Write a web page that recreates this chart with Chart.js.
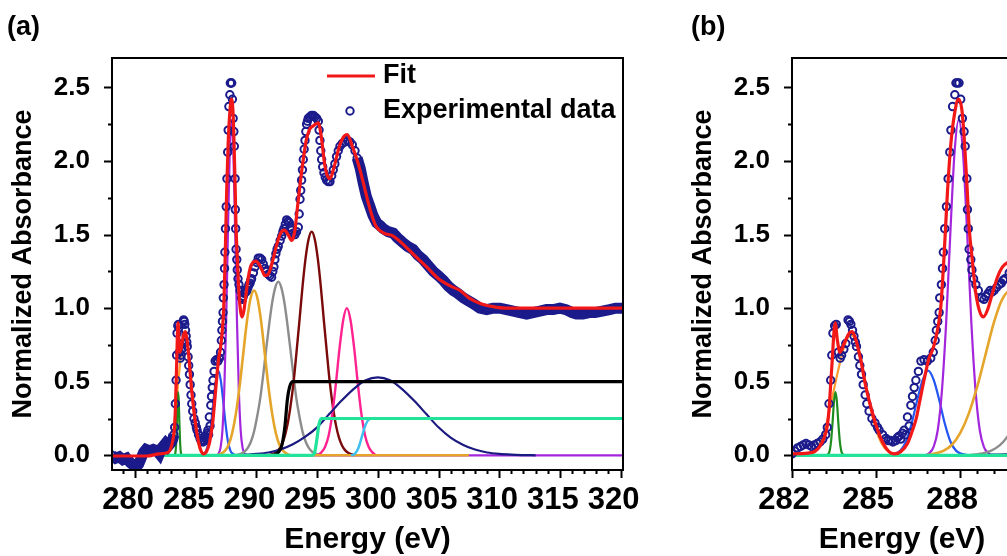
<!DOCTYPE html>
<html lang="en">
<head>
<meta charset="UTF-8">
<title>NEXAFS peak fit</title>
<script src="https://cdn.jsdelivr.net/npm/chart.js"></script>
<style>
    html, body { margin: 0; padding: 0; background: #fff; overflow: hidden; }
    body { width: 1007px; height: 556px; position: relative; }
    .panel { position: absolute; top: 0; height: 556px; }
    #panelA { left: 0; width: 660px; }
    #panelB { left: 680px; width: 352px; }
</style>
</head>
<body>
<div class="panel" id="panelA"><canvas id="chartA"></canvas></div>
<div class="panel" id="panelB"><canvas id="chartB"></canvas></div>

<script>
// ---- data: [energy (eV), normalized absorbance] ----
const expData = [
    [278.1, 0.00], [278.4, -0.02], [278.7, -0.01], [279.0, -0.03], [279.3, -0.02], [279.6, -0.05], [279.9, -0.07],
    [280.1, -0.08], [280.3, -0.06], [280.5, -0.02], [280.7, 0.02], [280.9, 0.04], [281.2, 0.03], [281.5, 0.04], [281.8, 0.03],
    [282.0, 0.01], [282.1, 0.03], [282.2, 0.05], [282.3, 0.06], [282.4, 0.07], [282.5, 0.08], [282.6, 0.07], [282.7, 0.06],
    [282.8, 0.07], [282.9, 0.08], [283.0, 0.09], [283.1, 0.11], [283.2, 0.14],
    [283.26, 0.19], [283.32, 0.35], [283.38, 0.51], [283.42, 0.68], [283.46, 0.83], [283.52, 0.88], [283.58, 0.89],
    [283.65, 0.70], [283.72, 0.66], [283.77, 0.68], [283.85, 0.72], [283.92, 0.76], [284.0, 0.92], [284.05, 0.91],
    [284.1, 0.89], [284.16, 0.85], [284.21, 0.81], [284.26, 0.77], [284.30, 0.74], [284.37, 0.67], [284.42, 0.61],
    [284.48, 0.55], [284.54, 0.48], [284.61, 0.41], [284.67, 0.35], [284.75, 0.30], [284.85, 0.25], [284.96, 0.22],
    [285.05, 0.19], [285.11, 0.17], [285.23, 0.14], [285.35, 0.115], [285.44, 0.10], [285.52, 0.10], [285.6, 0.09],
    [285.7, 0.10], [285.76, 0.12], [285.82, 0.13], [285.88, 0.11], [285.94, 0.15], [286.0, 0.17], [286.06, 0.14],
    [286.12, 0.26], [286.18, 0.20], [286.24, 0.34], [286.3, 0.40], [286.36, 0.46], [286.42, 0.51], [286.51, 0.57],
    [286.6, 0.64], [286.71, 0.65], [286.83, 0.64], [286.95, 0.66], [287.04, 0.70], [287.11, 0.78], [287.15, 0.85],
    [287.2, 0.91], [287.25, 0.97], [287.27, 1.07], [287.33, 1.16], [287.37, 1.27], [287.4, 1.38], [287.45, 1.54],
    [287.51, 1.69], [287.57, 1.88], [287.63, 2.06], [287.67, 2.21], [287.73, 2.37], [287.81, 2.45], [287.85, 2.53],
    [287.9, 2.53], [287.96, 2.53], [288.02, 2.42], [288.08, 2.29], [288.14, 2.20], [288.18, 2.10], [288.24, 1.88],
    [288.26, 1.67], [288.29, 1.54], [288.32, 1.40], [288.38, 1.33], [288.42, 1.26], [288.48, 1.20], [288.56, 1.16],
    [288.65, 1.12], [288.77, 1.07], [288.85, 1.06], [288.92, 1.08], [289.0, 1.10], [289.07, 1.12], [289.14, 1.11],
    [289.21, 1.12], [289.3, 1.14], [289.39, 1.16], [289.47, 1.17], [289.54, 1.19], [289.6, 1.20],
    [289.75, 1.24], [289.88, 1.28], [290.02, 1.31], [290.15, 1.34], [290.3, 1.34], [290.43, 1.33], [290.56, 1.30],
    [290.7, 1.27], [290.84, 1.25], [290.98, 1.23], [291.1, 1.22], [291.25, 1.21], [291.35, 1.25], [291.44, 1.28],
    [291.52, 1.33], [291.6, 1.37], [291.7, 1.40], [291.8, 1.42], [291.95, 1.46], [292.08, 1.49], [292.18, 1.52],
    [292.27, 1.54], [292.38, 1.57], [292.49, 1.60], [292.6, 1.59], [292.71, 1.58], [292.8, 1.55], [292.9, 1.53],
    [293.03, 1.51], [293.17, 1.50], [293.3, 1.52], [293.45, 1.55], [293.52, 1.64], [293.59, 1.74], [293.65, 1.80],
    [293.72, 1.87], [293.79, 1.94], [293.86, 2.01], [293.93, 2.08], [294.0, 2.14], [294.07, 2.20], [294.13, 2.25],
    [294.2, 2.27], [294.27, 2.29], [294.4, 2.30], [294.54, 2.31], [294.68, 2.31], [294.82, 2.30], [294.96, 2.29],
    [295.1, 2.27], [295.16, 2.21], [295.23, 2.14], [295.3, 2.07], [295.37, 2.01], [295.46, 1.96], [295.56, 1.92],
    [295.67, 1.89], [295.78, 1.87], [295.92, 1.86], [296.06, 1.86], [296.2, 1.90], [296.33, 1.94], [296.46, 1.98],
    [296.6, 2.03], [296.74, 2.07], [296.88, 2.10], [297.08, 2.12], [297.29, 2.13], [297.5, 2.14], [297.7, 2.13],
    [297.9, 2.11], [298.12, 2.07], [298.3, 2.02],
    [298.55, 1.95], [298.8, 1.85], [299.05, 1.76], [299.35, 1.69], [299.6, 1.63], [299.9, 1.58], [300.2, 1.56],
    [300.45, 1.54], [300.85, 1.52], [301.27, 1.51], [301.6, 1.48], [302.0, 1.45], [302.45, 1.42], [302.9, 1.40],
    [303.3, 1.36], [303.74, 1.33], [304.15, 1.29], [304.57, 1.25], [305.0, 1.22], [305.39, 1.19], [305.8, 1.15],
    [306.22, 1.12], [306.6, 1.10], [307.04, 1.07], [307.45, 1.05], [307.87, 1.03], [308.4, 1.00], [308.97, 0.99],
    [309.5, 1.00], [310.06, 1.00], [310.6, 0.99], [311.16, 0.98], [311.7, 0.97], [312.26, 0.96], [312.8, 0.97],
    [313.35, 0.98], [313.9, 0.99], [314.45, 0.99], [315.0, 1.00], [315.5, 0.99], [316.0, 0.97], [316.37, 0.96],
    [316.9, 0.96], [317.4, 0.97], [317.9, 0.97], [318.5, 0.98], [319.1, 0.99], [319.6, 1.00], [320.2, 1.00]
];

const fitData = [
    [278.1, -0.005], [281.0, -0.005], [282.0, 0.01], [282.73, 0.02], [283.08, 0.09], [283.26, 0.20], [283.32, 0.31],
    [283.42, 0.60], [283.54, 0.90], [283.62, 0.78], [283.71, 0.70], [283.86, 0.76], [284.04, 0.83], [284.15, 0.84],
    [284.27, 0.79], [284.45, 0.65], [284.63, 0.47], [284.81, 0.33], [284.99, 0.21], [285.23, 0.09], [285.46, 0.025],
    [285.64, 0.01], [285.88, 0.025], [286.12, 0.08], [286.3, 0.17], [286.42, 0.24], [286.54, 0.35], [286.71, 0.51],
    [286.89, 0.66], [287.04, 0.73], [287.19, 0.85], [287.31, 1.01], [287.43, 1.37], [287.55, 1.80], [287.67, 2.12],
    [287.79, 2.31], [287.94, 2.42], [288.06, 2.35], [288.14, 2.17], [288.24, 1.85], [288.32, 1.55], [288.42, 1.35],
    [288.56, 1.10], [288.71, 0.97], [288.83, 0.94], [288.98, 0.99], [289.15, 1.10], [289.33, 1.21], [289.51, 1.28],
    [289.7, 1.31], [289.95, 1.32], [290.2, 1.30], [290.45, 1.26], [290.7, 1.22], [290.97, 1.23], [291.3, 1.31],
    [291.7, 1.44], [292.0, 1.51], [292.3, 1.53], [292.6, 1.50], [292.9, 1.46], [293.15, 1.52], [293.4, 1.70],
    [293.65, 1.88], [293.86, 2.01], [294.1, 2.14], [294.35, 2.21], [294.7, 2.24], [295.09, 2.26], [295.35, 2.16],
    [295.6, 1.99], [295.8, 1.91], [296.06, 1.88], [296.4, 1.96], [296.8, 2.09], [297.15, 2.16], [297.48, 2.18],
    [297.9, 2.10], [298.2, 2.03], [298.53, 1.94], [298.9, 1.82], [299.2, 1.72], [299.55, 1.62], [299.9, 1.55],
    [300.5, 1.51], [301.27, 1.49], [302.0, 1.44], [303.0, 1.36], [304.02, 1.28], [305.0, 1.20], [306.0, 1.15],
    [306.77, 1.12], [307.5, 1.07], [308.5, 1.03], [309.5, 1.01], [310.5, 1.00], [312.0, 1.00], [316.0, 1.00], [320.2, 1.00]
];

// fitted components
const greenPk = [[283.2, 0], [283.3, 0.009], [283.35, 0.036], [283.4, 0.107], [283.45, 0.23], [283.5, 0.37], [283.55, 0.43],
    [283.6, 0.37], [283.65, 0.23], [283.7, 0.107], [283.75, 0.036], [283.8, 0.009], [283.9, 0]];
const orangePk = [[282.7, 0.01], [282.9, 0.05], [283.1, 0.13], [283.3, 0.27], [283.5, 0.45], [283.7, 0.62], [283.9, 0.76],
    [284.1, 0.82], [284.3, 0.77], [284.5, 0.62], [284.7, 0.42], [284.9, 0.24], [285.1, 0.12], [285.3, 0.05], [285.5, 0.02], [285.8, 0]];
const bluePk = [[285.66, 0.01], [285.86, 0.03], [286.06, 0.09], [286.26, 0.21], [286.46, 0.37], [286.66, 0.51], [286.86, 0.575],
    [287.06, 0.51], [287.26, 0.37], [287.46, 0.21], [287.66, 0.09], [287.86, 0.03], [288.06, 0.01], [288.3, 0]];
const purplePk = [[286.75, 0], [286.9, 0.015], [287.05, 0.055], [287.2, 0.17], [287.35, 0.44], [287.5, 0.90], [287.65, 1.51],
    [287.8, 2.06], [287.95, 2.28], [288.1, 2.06], [288.25, 1.51], [288.4, 0.90], [288.55, 0.44], [288.7, 0.17],
    [288.85, 0.055], [289.0, 0.015], [289.15, 0], [320.2, 0]];
const goldPk = [[286.8, 0], [287.1, 0.012], [287.4, 0.03], [287.7, 0.07], [288.0, 0.15], [288.3, 0.28], [288.6, 0.46],
    [288.9, 0.68], [289.2, 0.90], [289.5, 1.06], [289.8, 1.12], [290.1, 1.06], [290.4, 0.90], [290.7, 0.68], [291.0, 0.46],
    [291.3, 0.28], [291.6, 0.15], [291.9, 0.07], [292.2, 0.03], [292.5, 0.012], [292.8, 0], [307.5, 0]];
const grayPk = [[288.3, 0], [288.55, 0.006], [288.8, 0.013], [289.05, 0.027], [289.3, 0.052], [289.55, 0.094], [289.8, 0.16],
    [290.05, 0.26], [290.3, 0.38], [290.55, 0.54], [290.8, 0.72], [291.05, 0.89], [291.3, 1.04], [291.55, 1.14],
    [291.8, 1.18], [292.05, 1.14], [292.3, 1.04], [292.55, 0.89], [292.8, 0.72], [293.05, 0.54], [293.3, 0.38],
    [293.55, 0.26], [293.8, 0.16], [294.05, 0.094], [294.3, 0.052], [294.55, 0.027], [294.8, 0.013], [295.05, 0.006], [295.3, 0]];
const maroonPk = [[291.0, 0], [291.3, 0.008], [291.55, 0.017], [291.8, 0.035], [292.05, 0.067], [292.3, 0.12], [292.55, 0.205],
    [292.8, 0.33], [293.05, 0.49], [293.3, 0.70], [293.55, 0.92], [293.8, 1.15], [294.05, 1.34], [294.3, 1.47],
    [294.55, 1.52], [294.8, 1.47], [295.05, 1.34], [295.3, 1.15], [295.55, 0.92], [295.8, 0.70], [296.05, 0.49],
    [296.3, 0.33], [296.55, 0.205], [296.8, 0.12], [297.05, 0.067], [297.3, 0.035], [297.55, 0.017], [297.8, 0.008], [298.1, 0]];
const pinkPk = [[295.05, 0], [295.35, 0.02], [295.65, 0.056], [295.95, 0.135], [296.25, 0.28], [296.55, 0.49], [296.85, 0.73],
    [297.15, 0.92], [297.45, 1.0], [297.75, 0.92], [298.05, 0.73], [298.35, 0.49], [298.65, 0.28], [298.95, 0.135],
    [299.25, 0.056], [299.55, 0.02], [299.85, 0]];
const navyPk = [[289.0, 0.004], [290.0, 0.009], [291.0, 0.019], [292.0, 0.04], [293.0, 0.075], [294.0, 0.125], [295.0, 0.19],
    [296.0, 0.28], [297.0, 0.37], [298.0, 0.45], [299.0, 0.51], [300.0, 0.53], [301.0, 0.51], [302.0, 0.45], [303.0, 0.37],
    [304.0, 0.28], [305.0, 0.19], [306.0, 0.12], [307.0, 0.072], [308.0, 0.039], [309.0, 0.019], [310.0, 0.009],
    [311.0, 0.004], [312.0, 0.0015], [313.0, 0]];
const blackStep = [[291.5, 0], [291.8, 0.02], [292.1, 0.07], [292.35, 0.2], [292.55, 0.38], [292.75, 0.47], [293.0, 0.5], [320.2, 0.5]];
const skyStep = [[297.8, 0], [298.1, 0.01], [298.4, 0.05], [298.7, 0.13], [299.0, 0.21], [299.3, 0.245], [299.6, 0.25], [320.2, 0.25]];
const mintStep = [[282.0, 0], [294.6, 0], [294.8, 0.02], [295.0, 0.12], [295.15, 0.21], [295.35, 0.25], [320.2, 0.25]];

const xTicksA = [280, 285, 290, 295, 300, 305, 310, 315, 320];
const xTicksB = [282, 285, 288];
const yTicks = [0, 0.5, 1.0, 1.5, 2.0, 2.5];

const FONT = "'Liberation Sans', Arial, sans-serif";
const NAVY = '#1b1b8c';
const RED = '#f21818';

function curve(label, pts, color, width) {
    return {
        label: label,
        data: pts.map(([x, y]) => ({x: x, y: y})),
        borderColor: color,
        borderWidth: width,
        pointRadius: 0,
        pointHoverRadius: 0,
        cubicInterpolationMode: 'monotone',
        fill: false,
        clip: 0
    };
}

function expSet(bandLo, bandHi) {
    const inBand = x => x <= bandLo || x >= bandHi;
    return {
        label: 'Experimental data',
        data: expData.map(([x, y]) => ({x: x, y: y})),
        showLine: true,
        borderColor: NAVY,
        borderWidth: 11,
        segment: {
            borderColor: c => (inBand(c.p0.parsed.x) && inBand(c.p1.parsed.x)) ? NAVY : 'transparent'
        },
        pointRadius: 3.7,
        pointHoverRadius: 3.7,
        pointBorderWidth: 2,
        pointBorderColor: NAVY,
        pointBackgroundColor: 'rgba(0,0,0,0)',
        tension: 0,
        clip: 0
    };
}

// box, minor/major tick marks, panel letter and the inset legend
const framePlugin = {
    id: 'frame',
    afterDatasetsDraw(chart, args, opts) {
        const {ctx, chartArea: a, scales: {x, y}} = chart;
        ctx.save();
        ctx.strokeStyle = '#000';
        ctx.lineWidth = 2;
        ctx.strokeRect(a.left, a.top, a.right - a.left, a.bottom - a.top);

        ctx.lineWidth = 2;
        ctx.beginPath();
        for (let i = 0; ; i++) {
            const v = opts.xStart + i * opts.xMinor;
            if (v > x.max + 1e-6) break;
            const px = Math.round(x.getPixelForValue(v)) + 0.5;
            const major = opts.xMajor.some(m => Math.abs(m - v) < 1e-6);
            ctx.moveTo(px, a.bottom);
            ctx.lineTo(px, a.bottom + (major ? 8 : 4));
        }
        for (let i = 0; ; i++) {
            const v = i * 0.25;
            if (v > y.max) break;
            const py = Math.round(y.getPixelForValue(v)) + 0.5;
            const major = i % 2 === 0;
            ctx.moveTo(a.left, py);
            ctx.lineTo(a.left - (major ? 8 : 4), py);
        }
        ctx.stroke();
        ctx.restore();
    },
    afterDraw(chart, args, opts) {
        const ctx = chart.ctx;
        ctx.save();
        ctx.fillStyle = '#000';
        ctx.font = 'bold 27px ' + FONT;
        ctx.textBaseline = 'middle';
        ctx.textAlign = 'left';
        ctx.fillText(opts.letter, opts.letterX, 28);

        if (opts.legend) {
            ctx.strokeStyle = RED;
            ctx.lineWidth = 3;
            ctx.beginPath();
            ctx.moveTo(327, 76);
            ctx.lineTo(375, 76);
            ctx.stroke();
            ctx.fillText('Fit', 383, 76);

            ctx.strokeStyle = NAVY;
            ctx.lineWidth = 2;
            ctx.beginPath();
            ctx.arc(350, 111, 3.7, 0, Math.PI * 2);
            ctx.stroke();
            ctx.fillText('Experimental data', 383, 111);
        }
        ctx.restore();
    }
};

function makeChart(id, cfg) {
    const comps = [
        curve('Fit', fitData, RED, 3.2),
        cfg.exp,
        curve('step 2', mintStep, '#22e39a', 3.2),
        curve('step 1', blackStep, '#000000', 3.2),
        curve('step 3', skyStep, '#3fbef0', 2.5),
        curve('G10', navyPk, '#1a1a80', 2.2),
        curve('G5', goldPk, '#e5a52a', 2.6),
        curve('G8', pinkPk, '#ff2290', 2.4),
        curve('G7', maroonPk, '#7a0a0a', 2.4),
        curve('G6', grayPk, '#8c8c8c', 2.4),
        curve('G4', purplePk, '#a326dc', 2.2),
        curve('G3', bluePk, '#2456f0', 2.2),
        curve('G1', greenPk, '#1e8c1e', 2.2),
        curve('G2', orangePk, '#ff9a2e', 2.2)
    ];

    return new Chart(document.getElementById(id), {
        type: 'line',
        data: { datasets: comps },
        plugins: [framePlugin],
        options: {
            responsive: true,
            maintainAspectRatio: false,
            devicePixelRatio: 1,
            animation: false,
            events: [],
            layout: { padding: { left: 0, top: 58, right: cfg.padRight, bottom: 0 } },
            plugins: {
                legend: { display: false },
                tooltip: { enabled: false },
                frame: cfg.frame
            },
            scales: {
                x: {
                    type: 'linear',
                    min: cfg.xMin,
                    max: cfg.xMax,
                    afterBuildTicks: s => { s.ticks = cfg.xTicks.map(v => ({value: v})); },
                    afterFit: s => { s.height = 86; },
                    grid: { display: false },
                    border: { display: false },
                    ticks: {
                        font: { family: FONT, size: 31, weight: 'bold' },
                        color: '#000',
                        padding: 4,
                        labelOffset: cfg.labelOffset,
                        maxRotation: 0,
                        autoSkip: false,
                        callback: v => String(v)
                    },
                    title: {
                        display: true,
                        text: 'Energy (eV)',
                        color: '#000',
                        font: { family: FONT, size: 30, weight: 'bold', lineHeight: 1.1 },
                        padding: { top: 0, bottom: 0 }
                    }
                },
                y: {
                    min: -0.1,
                    max: 2.7,
                    afterBuildTicks: s => { s.ticks = yTicks.map(v => ({value: v})); },
                    afterFit: s => { s.width = 112; },
                    grid: { display: false },
                    border: { display: false },
                    ticks: {
                        font: { family: FONT, size: 26, weight: 'bold' },
                        color: '#000',
                        padding: 14,
                        callback: v => Number(v).toFixed(1)
                    },
                    title: {
                        display: true,
                        text: 'Normalized Absorbance',
                        color: '#000',
                        font: { family: FONT, size: 27, weight: 'bold' },
                        padding: { top: 7, bottom: 0 }
                    }
                }
            }
        }
    });
}

makeChart('chartA', {
    exp: expSet(283.2, 298.3),
    xMin: 278.1, xMax: 320.2,
    xTicks: xTicksA,
    labelOffset: -7,
    padRight: 37,
    frame: { letter: '(a)', letterX: 7, legend: true, xStart: 279, xMinor: 1, xMajor: xTicksA }
});

const expB = expSet(-1, 1000);
expB.showLine = false;
makeChart('chartB', {
    exp: expB,
    xMin: 282, xMax: 289.85,
    xTicks: xTicksB,
    labelOffset: -8,
    padRight: 20,
    frame: { letter: '(b)', letterX: 11, legend: false, xStart: 282, xMinor: 0.6, xMajor: xTicksB }
});
</script>
</body>
</html>
